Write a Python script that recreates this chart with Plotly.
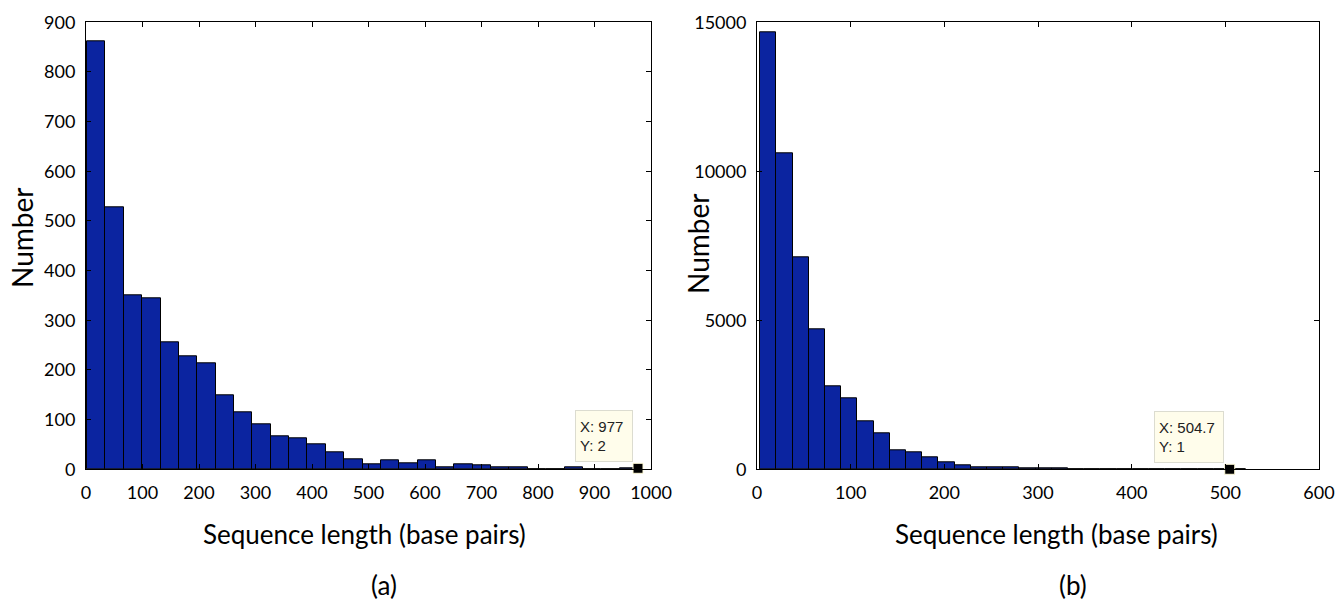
import plotly.graph_objects as go

# ---------------- data ----------------
# (a) histogram: 30 bins
a_bin_start = 2.0
a_bin_width = 32.5
a_counts = [861, 527, 350, 345, 256, 227, 213, 150, 115, 90,
            66, 63, 50, 34, 21, 11, 19, 13, 19, 5,
            11, 8, 4, 4, 1, 1, 5, 1, 1, 2]
a_tip = (977, 2)

# (b) histogram: 30 bins
b_bin_start = 3.5
b_bin_width = 17.29
b_counts = [14650, 10600, 7110, 4700, 2770, 2380, 1620, 1200, 625, 580,
            390, 225, 135, 80, 75, 60, 40, 30, 25, 15,
            12, 8, 6, 5, 0, 2, 0, 1, 1, 1]
b_tip = (504.7, 1)

a_xticks = list(range(0, 1001, 100))
a_yticks = list(range(0, 901, 100))
b_xticks = list(range(0, 601, 100))
b_yticks = [0, 5000, 10000, 15000]

x_title = "Sequence length (base pairs)"
y_title = "Number"
panel_labels = ["(a)", "(b)"]

# ---------------- figure ----------------
W, H = 1338, 603
BAR_COLOR = "#0b24a0"
TICK_FONT = dict(family="Lato", size=18, color="black")
LABEL_FONT = "Lato"


def centers(start, width, n):
    return [start + width * (k + 0.5) for k in range(n)]


fig = go.Figure()
fig.add_trace(go.Bar(
    x=centers(a_bin_start, a_bin_width, len(a_counts)), y=a_counts,
    width=a_bin_width, marker=dict(color=BAR_COLOR, line=dict(color="black", width=1)),
    xaxis="x", yaxis="y", hoverinfo="skip"))
fig.add_trace(go.Bar(
    x=centers(b_bin_start, b_bin_width, len(b_counts)), y=b_counts,
    width=b_bin_width, marker=dict(color=BAR_COLOR, line=dict(color="black", width=1)),
    xaxis="x2", yaxis="y2", hoverinfo="skip"))

for tip, xa, ya in [(a_tip, "x", "y"), (b_tip, "x2", "y2")]:
    fig.add_trace(go.Scatter(
        x=[tip[0]], y=[tip[1]], mode="markers", xaxis=xa, yaxis=ya,
        marker=dict(symbol="square", size=10, color="black",
                    line=dict(color="#fffbd8", width=1)),
        cliponaxis=False, hoverinfo="skip"))


def px_x(p):
    return p / W


def px_y(p):
    return 1 - p / H


ydom = [px_y(469.3), px_y(22.3)]
axis_common = dict(ticks="inside", ticklen=5, tickcolor="black", showline=True,
                   linecolor="black", linewidth=1, mirror="allticks", showgrid=False,
                   zeroline=False, tickfont=TICK_FONT, automargin=False,
                   ticklabeloverflow="allow")

fig.update_layout(
    width=W, height=H, margin=dict(l=0, r=0, t=0, b=0, autoexpand=False),
    paper_bgcolor="white", plot_bgcolor="white", showlegend=False,
    bargap=0,
    xaxis=dict(domain=[px_x(86), px_x(651)], range=[0, 1000], tickvals=a_xticks,
               anchor="y", ticklabelstandoff=7, **axis_common),
    yaxis=dict(domain=ydom, range=[0, 900], tickvals=a_yticks, anchor="x",
               ticklabelstandoff=6, **axis_common),
    xaxis2=dict(domain=[px_x(757), px_x(1319)], range=[0, 600], tickvals=b_xticks,
                anchor="y2", ticklabelstandoff=7, **axis_common),
    yaxis2=dict(domain=ydom, range=[0, 15000], tickvals=b_yticks,
                ticktext=[str(v) for v in b_yticks], anchor="x2",
                ticklabelstandoff=6, **axis_common),
)

ann = []
title_font = dict(family=LABEL_FONT, size=26, color="black")
for cx, txt, cy in [(365, x_title, 534), (1056, x_title, 534),
                    (384, panel_labels[0], 585), (1073, panel_labels[1], 585)]:
    ann.append(dict(x=px_x(cx), y=px_y(cy), xref="paper", yref="paper", text=txt,
                    xanchor="center", yanchor="middle", showarrow=False, font=title_font))
for cx, cy in [(22, 238), (698, 244)]:
    ann.append(dict(x=px_x(cx), y=px_y(cy), xref="paper", yref="paper", text=y_title,
                    textangle=-90, xanchor="center", yanchor="middle", showarrow=False,
                    font=dict(family=LABEL_FONT, size=28, color="black")))

# data tips
for tip, xa, ya, ax, wbox in [(a_tip, "x", "y", -34, 48), (b_tip, "x2", "y2", -41, 60)]:
    xs = f"{tip[0]:g}"
    ann.append(dict(x=tip[0], y=tip[1], xref=xa, yref=ya,
                    text=f"X: {xs}<br>Y: {tip[1]}", align="left",
                    showarrow=True, arrowcolor="rgba(0,0,0,0)", ax=ax, ay=-32,
                    bgcolor="#fffdeb", bordercolor="#dcdcd0", borderwidth=1, borderpad=4,
                    width=wbox, height=42,
                    font=dict(family="Liberation Sans", size=15, color="#222222")))

fig.update_layout(annotations=ann)
fig.write_html("out.html", config={"displayModeBar": False},
               post_script="document.body.style.margin='0';")
